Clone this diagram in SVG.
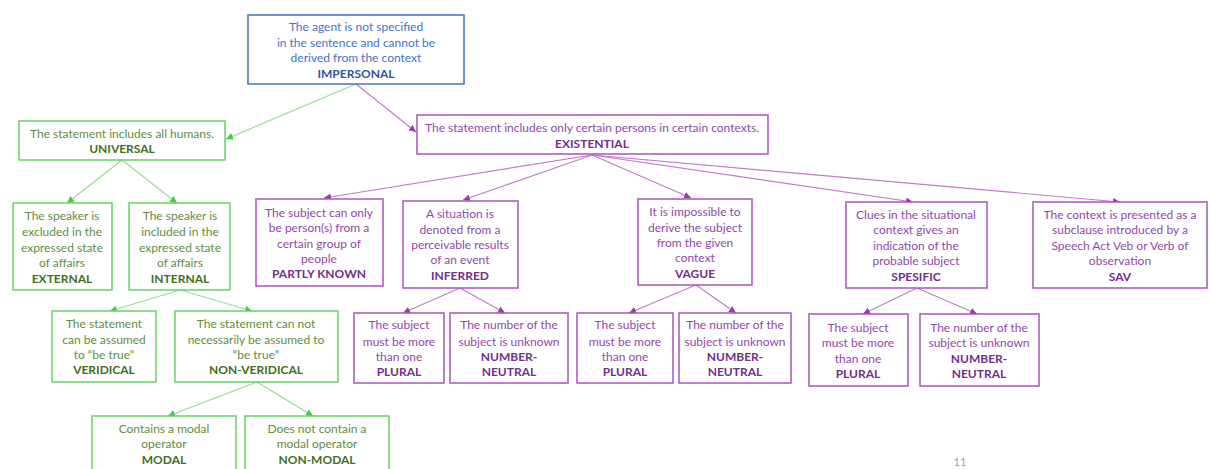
<svg xmlns="http://www.w3.org/2000/svg" width="1210" height="469" viewBox="0 0 1210 469">
<style>
text{font-family:Lato,"Liberation Sans",sans-serif;font-size:12px;text-anchor:middle;dominant-baseline:central}
.g rect{fill:#fff;stroke:#66D166;stroke-width:1.5}
.g text{fill:#5E8E3E}
.g text.b{fill:#3F7020;font-weight:bold}
.p rect{fill:#fff;stroke:#A855B8;stroke-width:1.5}
.p text{fill:#9048A8}
.p text.b{fill:#72308A;font-weight:bold}
.bl rect{fill:#fff;stroke:#4472C4;stroke-width:1.5}
.bl text{fill:#4472C4}
.bl text.b{fill:#2F5597;font-weight:bold}
.cg{stroke:#8FE08F;stroke-width:1.2;fill:none;marker-end:url(#ag)}
.cp{stroke:#C47ACC;stroke-width:1.2;fill:none;marker-end:url(#ap)}
.pn{fill:#A0A0A0;font-size:11px}
</style>
<defs>
<marker id="ag" markerUnits="userSpaceOnUse" markerWidth="8" markerHeight="8" refX="7" refY="3.5" orient="auto"><path d="M0,0L7,3.5L0,7Z" fill="#4CC74C"/></marker>
<marker id="ap" markerUnits="userSpaceOnUse" markerWidth="8" markerHeight="8" refX="7" refY="3.5" orient="auto"><path d="M0,0L7,3.5L0,7Z" fill="#9A3DAA"/></marker>
</defs>
<g id="connectors">
<path class="cg" d="M356,84L226,139"/>
<path class="cg" d="M122,160L67,203"/>
<path class="cg" d="M122,160L177,203"/>
<path class="cg" d="M180,290L110,311"/>
<path class="cg" d="M180,290L252,311"/>
<path class="cg" d="M257,382L168,416"/>
<path class="cg" d="M257,382L313,416"/>
<path class="cp" d="M356,84L416,132"/>
<path class="cp" d="M592,155L324,198"/>
<path class="cp" d="M592,155L463,200"/>
<path class="cp" d="M592,155L691,198"/>
<path class="cp" d="M592,155L913,202"/>
<path class="cp" d="M592,155L1120,202"/>
<path class="cp" d="M460,288L403,313"/>
<path class="cp" d="M460,288L505,313"/>
<path class="cp" d="M696,285L629,313"/>
<path class="cp" d="M696,285L736,313"/>
<path class="cp" d="M917,288L863,314"/>
<path class="cp" d="M917,288L977,314"/>
</g>
<g id="impersonal" class="bl"><rect x="248" y="15" width="216" height="69"/>
<text x="356" y="26">The agent is not specified</text><text x="356" y="42">in the sentence and cannot be</text><text x="356" y="57">derived from the context</text><text class="b" x="356" y="73">IMPERSONAL</text></g>
<g id="universal" class="g"><rect x="19" y="121" width="206" height="39"/>
<text x="122" y="133">The statement includes all humans.</text><text class="b" x="122" y="148">UNIVERSAL</text></g>
<g id="existential" class="p"><rect x="417" y="115" width="351" height="39"/>
<text x="592" y="127">The statement includes only certain persons in certain contexts.</text><text class="b" x="592" y="143">EXISTENTIAL</text></g>
<g id="external" class="g"><rect x="13" y="203" width="99" height="87"/>
<text x="62" y="215">The speaker is</text><text x="62" y="231">excluded in the</text><text x="62" y="247">expressed state</text><text x="62" y="262">of affairs</text><text class="b" x="62" y="278">EXTERNAL</text></g>
<g id="internal" class="g"><rect x="129" y="203" width="101" height="87"/>
<text x="180" y="215">The speaker is</text><text x="180" y="231">included in the</text><text x="180" y="247">expressed state</text><text x="180" y="262">of affairs</text><text class="b" x="180" y="278">INTERNAL</text></g>
<g id="veridical" class="g"><rect x="52" y="311" width="104" height="71"/>
<text x="104" y="323">The statement</text><text x="104" y="339">can be assumed</text><text x="104" y="354">to “be true”</text><text class="b" x="104" y="369">VERIDICAL</text></g>
<g id="nonveridical" class="g"><rect x="175" y="311" width="163" height="71"/>
<text x="256" y="323">The statement can not</text><text x="256" y="339">necessarily be assumed to</text><text x="256" y="354">“be true”</text><text class="b" x="256" y="369">NON-VERIDICAL</text></g>
<g id="modal" class="g"><rect x="92" y="416" width="144" height="60"/>
<text x="164" y="428">Contains a modal</text><text x="164" y="443">operator</text><text class="b" x="164" y="459">MODAL</text></g>
<g id="nonmodal" class="g"><rect x="245" y="416" width="144" height="60"/>
<text x="317" y="428">Does not contain a</text><text x="317" y="443">modal operator</text><text class="b" x="317" y="459">NON-MODAL</text></g>
<g id="partlyknown" class="p"><rect x="256" y="199" width="127" height="87"/>
<text x="319" y="212">The subject can only</text><text x="319" y="227">be person(s) from a</text><text x="319" y="243">certain group of</text><text x="319" y="258">people</text><text class="b" x="319" y="273">PARTLY KNOWN</text></g>
<g id="inferred" class="p"><rect x="403" y="201" width="115" height="87"/>
<text x="460" y="213">A situation is</text><text x="460" y="229">denoted from a</text><text x="460" y="244">perceivable results</text><text x="460" y="259">of an event</text><text class="b" x="460" y="275">INFERRED</text></g>
<g id="vague" class="p"><rect x="638" y="199" width="114" height="86"/>
<text x="695" y="211">It is impossible to</text><text x="695" y="227">derive the subject</text><text x="695" y="242">from the given</text><text x="695" y="257">context</text><text class="b" x="695" y="273">VAGUE</text></g>
<g id="spesific" class="p"><rect x="846" y="202" width="141" height="86"/>
<text x="916" y="214">Clues in the situational</text><text x="916" y="229">context gives an</text><text x="916" y="245">indication of the</text><text x="916" y="260">probable subject</text><text class="b" x="916" y="276">SPESIFIC</text></g>
<g id="sav" class="p"><rect x="1033" y="202" width="174" height="86"/>
<text x="1120" y="214">The context is presented as a</text><text x="1120" y="229">subclause introduced by a</text><text x="1120" y="245">Speech Act Veb or Verb of</text><text x="1120" y="260">observation</text><text class="b" x="1120" y="276">SAV</text></g>
<g id="plural1" class="p"><rect x="354" y="313" width="90" height="70"/>
<text x="399" y="324">The subject</text><text x="399" y="341">must be more</text><text x="399" y="356">than one</text><text class="b" x="399" y="371">PLURAL</text></g>
<g id="numberneutral1" class="p"><rect x="450" y="313" width="118" height="70"/>
<text x="509" y="324">The number of the</text><text x="509" y="341">subject is unknown</text><text class="b" x="509" y="356">NUMBER-</text><text class="b" x="509" y="371">NEUTRAL</text></g>
<g id="plural2" class="p"><rect x="577" y="313" width="96" height="70"/>
<text x="625" y="324">The subject</text><text x="625" y="341">must be more</text><text x="625" y="356">than one</text><text class="b" x="625" y="371">PLURAL</text></g>
<g id="numberneutral2" class="p"><rect x="679" y="313" width="112" height="70"/>
<text x="735" y="324">The number of the</text><text x="735" y="341">subject is unknown</text><text class="b" x="735" y="356">NUMBER-</text><text class="b" x="735" y="371">NEUTRAL</text></g>
<g id="plural3" class="p"><rect x="809" y="314" width="99" height="72"/>
<text x="858" y="327">The subject</text><text x="858" y="342">must be more</text><text x="858" y="358">than one</text><text class="b" x="858" y="373">PLURAL</text></g>
<g id="numberneutral3" class="p"><rect x="920" y="314" width="119" height="72"/>
<text x="979" y="327">The number of the</text><text x="979" y="342">subject is unknown</text><text class="b" x="979" y="358">NUMBER-</text><text class="b" x="979" y="373">NEUTRAL</text></g>
<text class="pn" x="960" y="461">11</text>
</svg>
